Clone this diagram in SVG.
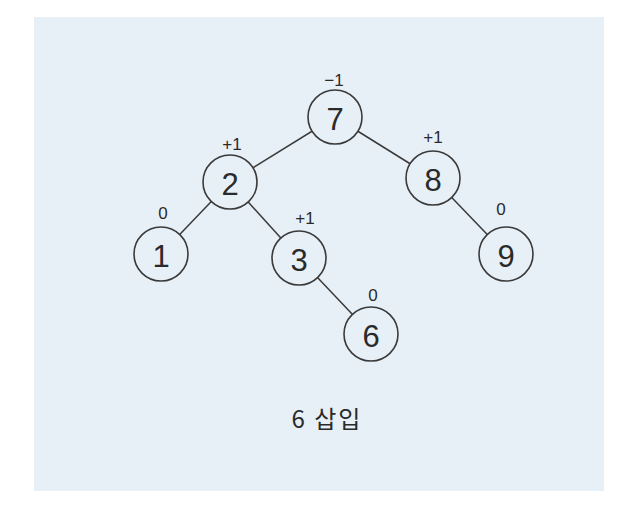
<svg xmlns="http://www.w3.org/2000/svg" width="625" height="505" viewBox="0 0 625 505">
<style>
.bg{fill:#e8f0f7}
.edge{stroke:#3a3a3a;stroke-width:1.5;fill:none}
.node circle{fill:#e8f0f7;stroke:#3a3a3a;stroke-width:1.6}
.num{font-family:"Liberation Sans","Noto Sans",sans-serif;font-size:31px;fill:#2a2a2a;text-anchor:middle}
.bal{font-family:"Liberation Sans","Noto Sans",sans-serif;font-size:17px;fill:#2a2a2a;text-anchor:middle}
.cap{font-family:"Noto Sans CJK KR","Noto Sans",sans-serif;font-size:24px;fill:#2a2a2a;text-anchor:middle;letter-spacing:2px}
</style>
<rect class="bg" x="34" y="17" width="570" height="474"/>
<g id="connectors">
<line class="edge" x1="335" y1="117" x2="230" y2="182"/>
<line class="edge" x1="335" y1="117" x2="433" y2="178"/>
<line class="edge" x1="230" y1="182" x2="161" y2="254"/>
<line class="edge" x1="230" y1="182" x2="299" y2="258"/>
<line class="edge" x1="299" y1="258" x2="371" y2="334"/>
<line class="edge" x1="433" y1="178" x2="506" y2="254"/>
</g>
<g id="n7" class="node"><circle cx="335" cy="117" r="27"/><text class="num" x="335" y="130">7</text><text class="bal" x="334" y="86">−1</text></g>
<g id="n2" class="node"><circle cx="230" cy="182" r="27"/><text class="num" x="230" y="195">2</text><text class="bal" x="232" y="150">+1</text></g>
<g id="n8" class="node"><circle cx="433" cy="178" r="27"/><text class="num" x="433" y="191">8</text><text class="bal" x="433" y="143">+1</text></g>
<g id="n1" class="node"><circle cx="161" cy="254" r="27"/><text class="num" x="161" y="267">1</text><text class="bal" x="163" y="219">0</text></g>
<g id="n3" class="node"><circle cx="299" cy="258" r="27"/><text class="num" x="299" y="271">3</text><text class="bal" x="305" y="224">+1</text></g>
<g id="n6" class="node"><circle cx="371" cy="334" r="27"/><text class="num" x="371" y="347">6</text><text class="bal" x="373" y="301">0</text></g>
<g id="n9" class="node"><circle cx="506" cy="254" r="27"/><text class="num" x="506" y="267">9</text><text class="bal" x="501" y="215">0</text></g>
<text class="cap" x="327" y="428">6 삽입</text>
</svg>
